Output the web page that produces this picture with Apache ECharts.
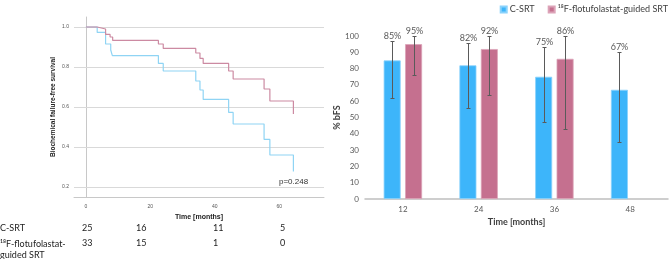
<!DOCTYPE html>
<html>
<head>
<meta charset="utf-8">
<script src="https://cdn.jsdelivr.net/npm/echarts@6/dist/echarts.min.js"></script>
<style>
  html, body { margin: 0; padding: 0; background: #fff; }
  #chart { width: 669px; height: 259px; }
</style>
</head>
<body>
<div id="chart"></div>
<script>
// Kaplan-Meier curves (months, survival proportion)
const kmTimeCsrt = [0, 3.5, 6.1, 7.7, 8.2, 22.5, 24, 34.1, 35.4, 36.4, 44.3, 45.7, 55.3, 57.1, 64.4]
const kmSurvCsrt = [1.0, 0.973, 0.915, 0.885, 0.857, 0.818, 0.78, 0.73, 0.685, 0.638, 0.573, 0.515, 0.438, 0.36, 0.277]
const kmTimeFlot = [0, 3.5, 6.1, 7.5, 8.3, 22.5, 24, 34.1, 35.4, 36.4, 44.3, 45.7, 55.3, 57.1, 64.4]
const kmSurvFlot = [1.0, 0.99, 0.963, 0.95, 0.933, 0.915, 0.893, 0.87, 0.843, 0.818, 0.78, 0.74, 0.69, 0.63, 0.565]
const kmXTicks = [0, 20, 40, 60]
const kmYTicks = [0.2, 0.4, 0.6, 0.8, 1.0]
const pValueText = 'p=0.248'

// numbers at risk
const riskLabelCsrt = 'C-SRT'
const riskLabelFlot = '¹⁸F-flotufolastat-\nguided SRT'
const riskCsrt = [25, 16, 11, 5]
const riskFlot = [33, 15, 1, 0]

// bFS bar chart
const bfsCategories = ['12', '24', '36', '48']
const nameCsrt = 'C-SRT'
const nameFlot = '¹⁸F-flotufolastat-guided SRT'
const bfsCsrt = [85, 82, 75, 67]
const bfsFlot = [95, 92, 86, null]
const bfsCsrtLow = [62, 56, 47, 35]
const bfsCsrtHigh = [97, 96, 93, 90]
const bfsFlotLow = [76, 64, 43, null]
const bfsFlotHigh = [100, 100, 100, null]

const blue = '#3db5fa'
const mauve = '#c5708f'
const kmBlue = '#8fd4f4'
const kmRed = '#cc8aa2'
const spssFont = 'Liberation Sans'
const xlFont = 'Lato'

const barWidth = 17
const barGap = 0.26
const barOffset = (barWidth + barWidth * barGap) / 2

const chart = echarts.init(document.getElementById('chart'))

const zip = (xs, ys) => xs.map((x, i) => [x, ys[i]])

const errorData = (vals, lows, highs) => {
  const out = []
  vals.forEach((v, i) => {
    if (v != null) out.push([i, lows[i], highs[i], v])
  })
  return out
}

const errorBar = (offset) => (params, api) => {
  const x = Math.round(api.coord([api.value(0), 0])[0] + offset) + 0.5
  const lo = Math.round(api.coord([api.value(0), api.value(1)])[1]) + 0.5
  const hi = Math.round(api.coord([api.value(0), api.value(2)])[1]) + 0.5
  const st = { stroke: '#5a5a5a', lineWidth: 1 }
  return {
    type: 'group',
    children: [
      { type: 'line', shape: { x1: x, y1: hi, x2: x, y2: lo }, style: st },
      { type: 'line', shape: { x1: x - 2, y1: hi, x2: x + 2, y2: hi }, style: st },
      { type: 'line', shape: { x1: x - 2, y1: lo, x2: x + 2, y2: lo }, style: st },
      {
        type: 'text',
        x: x,
        y: hi - 1,
        style: {
          text: api.value(3) + '%',
          fill: '#595959',
          font: '9px ' + xlFont,
          align: 'center',
          verticalAlign: 'bottom'
        }
      }
    ]
  }
}

const riskCols = [82, 136, 213, 280]
const riskText = []
riskText.push({ type: 'text', left: 0, top: 224, style: { text: riskLabelCsrt, font: '9px ' + xlFont, fill: '#222' } })
riskText.push({ type: 'text', left: 0, top: 239, style: { text: riskLabelFlot, font: '9px ' + xlFont, fill: '#222', lineHeight: 11 } })
riskCsrt.forEach((n, i) => {
  riskText.push({ type: 'text', left: riskCols[i], top: 224, style: { text: String(n), font: '9px ' + xlFont, fill: '#222' } })
})
riskFlot.forEach((n, i) => {
  riskText.push({ type: 'text', left: riskCols[i], top: 239, style: { text: String(n), font: '9px ' + xlFont, fill: '#222' } })
})

const option = {
  animation: false,
  backgroundColor: '#fff',
  legend: {
    data: [nameCsrt, nameFlot],
    right: 1,
    top: 5,
    padding: 0,
    icon: 'rect',
    itemWidth: 6,
    itemHeight: 6,
    itemGap: 13,
    textStyle: { fontFamily: xlFont, fontSize: 9, color: '#404040', padding: [0, 0, 0, -2] }
  },
  graphic: [
    {
      type: 'text',
      left: 279,
      top: 178,
      style: { text: pValueText, font: '8px ' + spssFont, fill: '#333' }
    }
  ].concat(riskText),
  grid: [
    { left: 74, top: 17, width: 250, height: 180 },
    { left: 365, top: 36, right: 1, height: 163 }
  ],
  xAxis: [
    {
      gridIndex: 0,
      type: 'value',
      min: -3.7,
      max: 73.9,
      name: 'Time [months]',
      nameLocation: 'middle',
      nameGap: 11,
      nameTextStyle: { fontFamily: spssFont, fontSize: 7, fontWeight: 'bold', color: '#222' },
      axisLine: { show: true, lineStyle: { color: '#c8c8c8' } },
      axisTick: { show: false },
      splitLine: { show: false },
      axisLabel: { customValues: kmXTicks, fontFamily: spssFont, fontSize: 5, color: '#555', margin: 7 }
    },
    {
      gridIndex: 1,
      type: 'category',
      data: bfsCategories,
      name: 'Time [months]',
      nameLocation: 'middle',
      nameGap: 17,
      nameTextStyle: { fontFamily: xlFont, fontSize: 9, fontWeight: 'bold', color: '#404040' },
      axisLine: { lineStyle: { color: '#bfbfbf', width: 1.5 } },
      axisTick: { show: false },
      axisLabel: { fontFamily: xlFont, fontSize: 8, color: '#595959', margin: 6 }
    }
  ],
  yAxis: [
    {
      gridIndex: 0,
      type: 'value',
      min: 0.15,
      max: 1.05,
      name: 'Biochemical failure-free survival',
      nameLocation: 'middle',
      nameGap: 17,
      nameTextStyle: { fontFamily: spssFont, fontSize: 6.5, fontWeight: 'bold', color: '#222' },
      axisLine: { show: true, lineStyle: { color: '#c8c8c8' } },
      axisTick: { show: false },
      splitLine: { show: false },
      axisLabel: {
        customValues: kmYTicks,
        formatter: (v) => v.toFixed(1),
        fontFamily: spssFont,
        fontSize: 5,
        color: '#555',
        margin: 5
      }
    },
    {
      gridIndex: 1,
      type: 'value',
      min: 0,
      max: 100,
      interval: 10,
      name: '% bFS',
      nameLocation: 'middle',
      nameGap: 15,
      nameTextStyle: { fontFamily: xlFont, fontSize: 9, fontWeight: 'bold', color: '#404040' },
      axisLine: { show: false },
      axisTick: { show: false },
      splitLine: { show: false },
      axisLabel: { fontFamily: xlFont, fontSize: 8, color: '#595959', margin: 6 }
    }
  ],
  series: [
    {
      name: 'km-csrt',
      type: 'line',
      xAxisIndex: 0,
      yAxisIndex: 0,
      step: 'end',
      symbol: 'none',
      data: zip(kmTimeCsrt, kmSurvCsrt),
      lineStyle: { color: kmBlue, width: 1.2 },
      z: 3,
      markLine: {
        silent: true,
        symbol: 'none',
        label: { show: false },
        lineStyle: { color: '#d9d9d9', type: 'solid', width: 1 },
        data: kmYTicks.map((v) => ({ yAxis: v })),
        z: 1
      }
    },
    {
      name: 'km-flot',
      type: 'line',
      xAxisIndex: 0,
      yAxisIndex: 0,
      step: 'end',
      symbol: 'none',
      data: zip(kmTimeFlot, kmSurvFlot),
      lineStyle: { color: kmRed, width: 1.2 },
      z: 4
    },
    {
      name: nameCsrt,
      type: 'bar',
      xAxisIndex: 1,
      yAxisIndex: 1,
      barWidth: barWidth,
      barGap: barGap * 100 + '%',
      data: bfsCsrt,
      itemStyle: { color: blue, borderColor: '#8ad2fb', borderWidth: 0.8 }
    },
    {
      name: nameFlot,
      type: 'bar',
      xAxisIndex: 1,
      yAxisIndex: 1,
      barWidth: barWidth,
      data: bfsFlot,
      itemStyle: { color: mauve, borderColor: '#dca3b8', borderWidth: 0.8 }
    },
    {
      name: 'err-csrt',
      type: 'custom',
      xAxisIndex: 1,
      yAxisIndex: 1,
      renderItem: errorBar(-barOffset),
      data: errorData(bfsCsrt, bfsCsrtLow, bfsCsrtHigh),
      z: 5
    },
    {
      name: 'err-flot',
      type: 'custom',
      xAxisIndex: 1,
      yAxisIndex: 1,
      renderItem: errorBar(barOffset),
      data: errorData(bfsFlot, bfsFlotLow, bfsFlotHigh),
      z: 5
    }
  ]
}

chart.setOption(option)
</script>
</body>
</html>
